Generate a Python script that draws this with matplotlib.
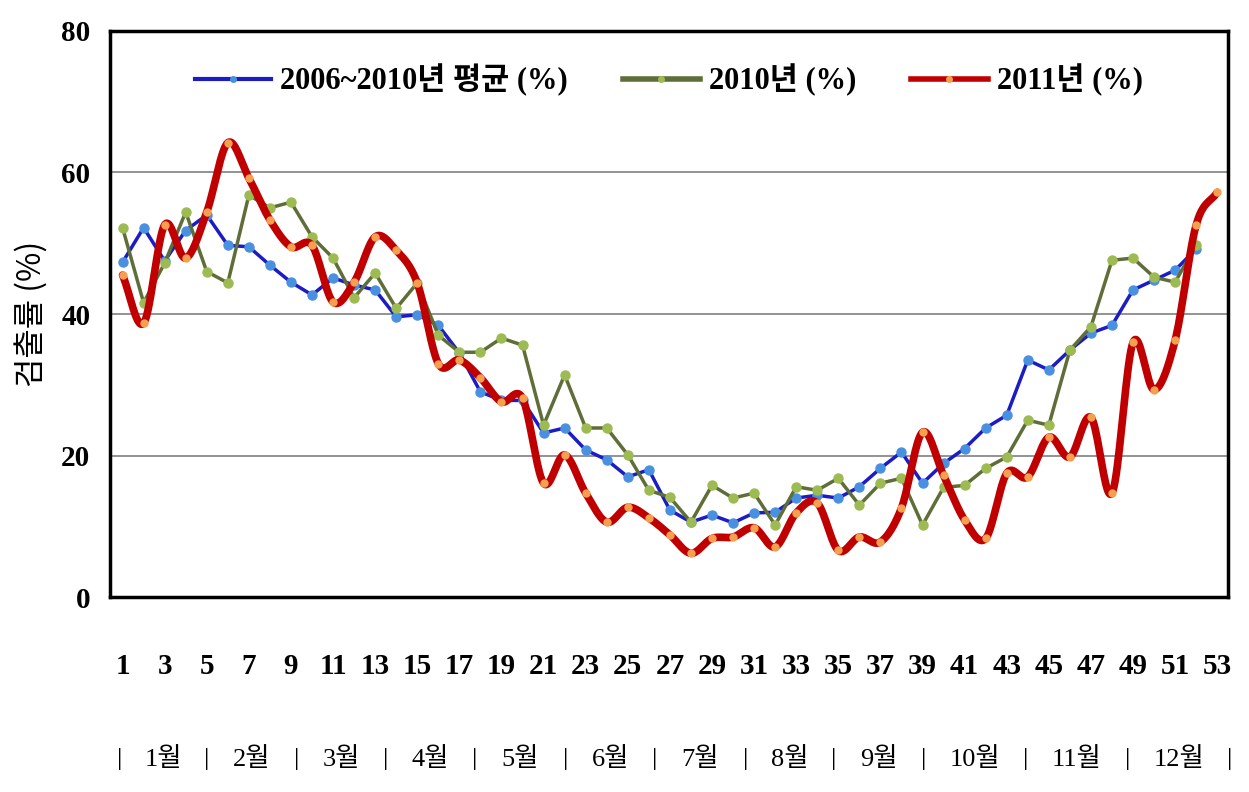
import numpy as np
import matplotlib
matplotlib.use("Agg")
import matplotlib.pyplot as plt
from matplotlib.lines import Line2D

weeks = np.arange(1, 54)

avg_0610 = [47.3, 52.2, 47.5, 51.8, 54.0, 49.7, 49.5, 46.9, 44.5, 42.7,
            45.1, 44.1, 43.4, 39.6, 39.9, 38.4, 34.5, 29.0, 27.8, 27.8,
            23.2, 23.9, 20.8, 19.4, 17.0, 18.0, 12.3, 10.6, 11.6, 10.5,
            11.9, 12.0, 14.0, 14.4, 14.0, 15.6, 18.2, 20.5, 16.1, 18.9,
            21.0, 23.9, 25.7, 33.5, 32.1, 34.9, 37.3, 38.4, 43.4, 44.8,
            46.2, 49.2]

y2010 = [52.2, 41.6, 47.2, 54.4, 46.0, 44.4, 56.8, 55.0, 55.8, 50.9,
         47.9, 42.3, 45.8, 40.8, 44.4, 37.0, 34.6, 34.6, 36.6, 35.6,
         24.3, 31.4, 23.9, 23.9, 20.1, 15.1, 14.1, 10.6, 15.8, 14.0,
         14.7, 10.2, 15.6, 15.1, 16.8, 13.0, 16.1, 16.8, 10.2, 15.5,
         15.8, 18.2, 19.8, 25.0, 24.3, 34.9, 38.2, 47.6, 47.9, 45.2,
         44.5, 49.8]

y2011 = [45.5, 38.7, 52.6, 47.9, 54.4, 64.2, 59.2, 53.3, 49.5, 49.7,
         41.7, 44.5, 50.9, 49.0, 44.4, 33.0, 33.5, 31.0, 27.6, 28.1,
         16.1, 20.1, 14.7, 10.6, 12.7, 11.2, 8.8, 6.2, 8.3, 8.5,
         9.8, 7.1, 11.9, 13.3, 6.6, 8.5, 7.8, 12.6, 23.3, 17.2,
         10.9, 8.3, 17.5, 17.0, 22.6, 19.8, 25.4, 14.7, 36.0, 29.3,
         36.3, 52.6, 57.2]

labels = ["2006~2010년 평균 (%)", "2010년 (%)", "2011년 (%)"]
months = ["1월", "2월", "3월", "4월", "5월", "6월",
          "7월", "8월", "9월", "10월", "11월", "12월"]
# month separator positions, in week units
sep_pos = [0.85, 5.0, 9.25, 13.5, 17.75, 22.05, 26.3, 30.6, 34.8,
           39.05, 43.9, 48.75, 53.6]

serif = ["Liberation Serif", "Noto Sans CJK KR"]


def smooth(x, y, n=20):
    # catmull-rom curve through the points, like excel's smoothed line
    x = np.asarray(x, float)
    y = np.asarray(y, float)
    px = np.concatenate([[2 * x[0] - x[1]], x, [2 * x[-1] - x[-2]]])
    py = np.concatenate([[2 * y[0] - y[1]], y, [2 * y[-1] - y[-2]]])
    t = np.linspace(0, 1, n, endpoint=False)
    xs, ys = [], []
    for i in range(1, len(px) - 2):
        for p, out in ((px, xs), (py, ys)):
            p0, p1, p2, p3 = p[i - 1], p[i], p[i + 1], p[i + 2]
            out.append(0.5 * (2 * p1 + (-p0 + p2) * t
                              + (2 * p0 - 5 * p1 + 4 * p2 - p3) * t ** 2
                              + (-p0 + 3 * p1 - 3 * p2 + p3) * t ** 3))
    xs.append([x[-1]])
    ys.append([y[-1]])
    return np.concatenate(xs), np.concatenate(ys)


fig = plt.figure(figsize=(12.49, 7.92), dpi=100)
ax = fig.add_axes([0.088, 0.246, 0.895, 0.715])

ax.plot(weeks[:52], avg_0610, color="#1c1cc4", lw=2.5, marker="o", ms=6.5,
        mfc="#4a90e0", mec="#4a90e0", zorder=3)
ax.plot(weeks[:52], y2010, color="#5f6e38", lw=2.5, marker="o", ms=6.5,
        mfc="#9dbb52", mec="#9dbb52", zorder=3)
sx, sy = smooth(weeks, y2011)
ax.plot(sx, sy, color="#c00000", lw=5.5, solid_capstyle="round", zorder=4)
ax.plot(weeks, y2011, ls="none", marker="o", ms=5, mfc="#f5a050",
        mec="#f5a050", zorder=5)

ax.set_xlim(0.4, 53.5)
ax.set_ylim(0, 80)
ax.set_yticks([0, 20, 40, 60, 80])
ax.set_xticks(weeks[::2])
ax.tick_params(length=0)
ax.tick_params(axis="x", pad=40)
ax.tick_params(axis="y", pad=14)
for lab in ax.get_xticklabels() + ax.get_yticklabels():
    lab.set_fontfamily(serif)
    lab.set_fontweight("bold")
    lab.set_fontsize(21)
ax.grid(axis="y", color="#808080", lw=1.2)
ax.set_axisbelow(True)
for s in ax.spines.values():
    s.set_linewidth(2.5)
    s.set_color("black")

ax.set_ylabel("검출률 (%)", family=["Noto Sans CJK KR"], fontsize=23,
              labelpad=10)

handles = [
    Line2D([], [], color="#1c1cc4", lw=3, marker="o", ms=4,
           mfc="#4a90e0", mec="#4a90e0"),
    Line2D([], [], color="#5f6e38", lw=4, marker="o", ms=4,
           mfc="#9dbb52", mec="#9dbb52"),
    Line2D([], [], color="#c00000", lw=4, marker="o", ms=4,
           mfc="#f5a050", mec="#f5a050"),
]
ax.legend(handles, labels, loc="upper center", bbox_to_anchor=(0.5, 0.99),
          ncol=3, frameon=False, handlelength=2.5, handletextpad=0.3,
          columnspacing=1.8,
          prop={"family": serif, "weight": "bold", "size": 22})

trans = ax.get_xaxis_transform()
for p in sep_pos:
    ax.text(p, -0.285, "|", transform=trans, ha="center", va="center",
            family=serif, fontsize=19, clip_on=False)
for i, m in enumerate(months):
    c = (sep_pos[i] + sep_pos[i + 1]) / 2
    ax.text(c, -0.285, m, transform=trans, ha="center", va="center",
            family=serif, fontsize=19, clip_on=False)

fig.savefig("out.png", dpi=100)
